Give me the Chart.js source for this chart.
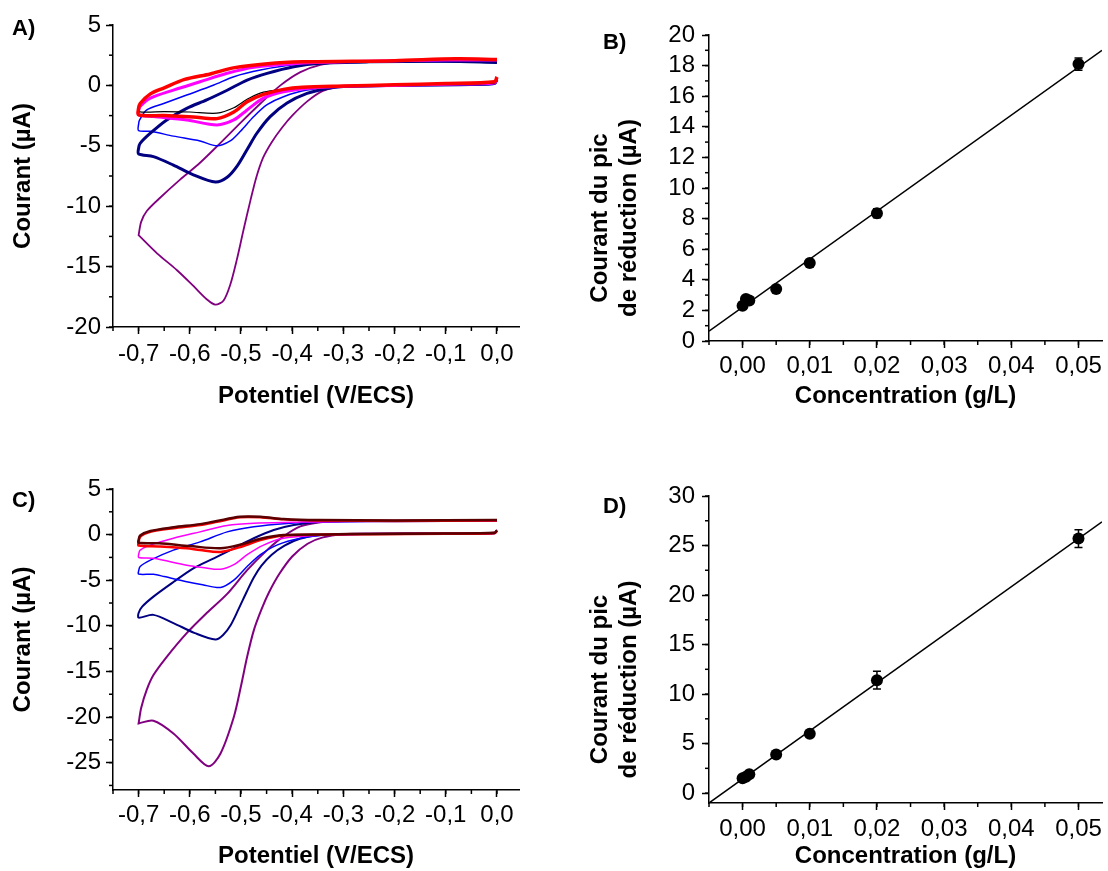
<!DOCTYPE html>
<html>
<head>
<meta charset="utf-8">
<script src="https://cdn.jsdelivr.net/npm/chart.js@4.4.1/dist/chart.umd.min.js"></script>
<style>
  html, body { margin: 0; padding: 0; background: #fff; width: 1108px; height: 871px; overflow: hidden; }
  canvas { position: absolute; }
  .tag { position: absolute; font: bold 22px "Liberation Sans", Arial, sans-serif; line-height: 22px; color: #000; }
</style>
</head>
<body>
<canvas id="cA" width="540" height="420" style="left:0;top:0"></canvas>
<canvas id="cB" width="548" height="420" style="left:560px;top:0"></canvas>
<canvas id="cC" width="540" height="421" style="left:0;top:450px"></canvas>
<canvas id="cD" width="548" height="421" style="left:560px;top:450px"></canvas>
<div class="tag" style="left:12px;top:17px">A)</div>
<div class="tag" style="left:603px;top:31px">B)</div>
<div class="tag" style="left:12px;top:489px">C)</div>
<div class="tag" style="left:603px;top:495px">D)</div>
<script>
// ---- tick values ----
const potTicks  = [-0.7, -0.6, -0.5, -0.4, -0.3, -0.2, -0.1, 0.0];
const curTicksA = [5, 0, -5, -10, -15, -20];
const curTicksC = [5, 0, -5, -10, -15, -20, -25];
const concTicks = [0, 0.01, 0.02, 0.03, 0.04, 0.05];
const peakTicksB = [0, 2, 4, 6, 8, 10, 12, 14, 16, 18, 20];
const peakTicksD = [0, 5, 10, 15, 20, 25, 30];

// ---- panel A voltammograms [E (V/ECS), I (µA)] ----
const cvA_red = [[0,0.7],[-0.005,0.3],[-0.1,0.15],[-0.2,0.05],[-0.3,-0.05],[-0.38,-0.15],[-0.417,-0.33],[-0.456,-0.75],[-0.488,-1.35],[-0.514,-2.2],[-0.547,-2.75],[-0.593,-2.62],[-0.65,-2.5],[-0.7,-2.44],
  [-0.7,-1.9],[-0.697,-1.5],[-0.677,-0.7],[-0.65,-0.2],[-0.61,0.5],[-0.56,0.95],[-0.515,1.45],[-0.448,1.8],[-0.38,1.95],[-0.2,2.05],[-0.08,2.2],[0,2.15]];
const cvA_black = [[0,0.5],[-0.005,0.2],[-0.1,0.1],[-0.2,0.02],[-0.3,-0.05],[-0.37,-0.17],[-0.456,-0.55],[-0.488,-1.15],[-0.514,-1.85],[-0.547,-2.3],[-0.6,-2.2],[-0.65,-2.17],[-0.7,-2.17],
  [-0.7,-1.7],[-0.695,-1.4],[-0.677,-0.7],[-0.65,-0.2],[-0.61,0.5],[-0.56,0.95],[-0.515,1.45],[-0.448,1.8],[-0.38,1.95],[-0.2,2.05],[-0.08,2.2],[0,2.15]];
const cvA_magenta = [[0,0.6],[-0.005,0.2],[-0.1,0.1],[-0.2,0.0],[-0.3,-0.08],[-0.35,-0.17],[-0.417,-0.52],[-0.456,-1.06],[-0.488,-2.03],[-0.514,-2.86],[-0.547,-3.27],[-0.606,-2.86],[-0.671,-2.58],[-0.7,-2.44],
  [-0.7,-2.1],[-0.697,-1.75],[-0.677,-1.06],[-0.632,-0.39],[-0.58,0.3],[-0.527,1.0],[-0.475,1.5],[-0.397,1.8],[-0.3,1.95],[-0.1,2.1],[0,2.1]];
const cvA_blue = [[0,0.4],[-0.005,0.1],[-0.1,0.0],[-0.2,-0.05],[-0.3,-0.12],[-0.371,-0.39],[-0.417,-0.94],[-0.449,-1.6],[-0.475,-2.58],[-0.501,-3.8],[-0.521,-4.6],[-0.547,-5.0],[-0.58,-4.6],[-0.632,-4.2],[-0.677,-3.8],[-0.7,-3.74],
  [-0.7,-3.2],[-0.698,-2.86],[-0.684,-2.03],[-0.651,-1.5],[-0.606,-0.8],[-0.553,0.03],[-0.514,0.72],[-0.462,1.27],[-0.397,1.7],[-0.3,1.9],[-0.15,1.95],[0,1.9]];
const cvA_navy = [[0,0.5],[-0.005,0.15],[-0.1,0.05],[-0.2,0.0],[-0.3,-0.1],[-0.332,-0.25],[-0.371,-0.66],[-0.41,-1.45],[-0.443,-2.58],[-0.469,-3.96],[-0.488,-5.3],[-0.508,-6.7],[-0.527,-7.6],[-0.55,-8.0],[-0.593,-7.4],[-0.632,-6.6],[-0.671,-5.9],[-0.7,-5.67],
  [-0.7,-5.2],[-0.697,-4.8],[-0.677,-3.96],[-0.645,-2.86],[-0.606,-1.9],[-0.567,-1.2],[-0.527,-0.4],[-0.488,0.44],[-0.449,1.0],[-0.397,1.55],[-0.345,1.83],[-0.25,1.95],[-0.1,2.0],[0,1.9]];
const cvA_purple = [[0,0.6],[-0.005,0.25],[-0.1,0.1],[-0.2,0.0],[-0.3,-0.1],[-0.34,-0.45],[-0.37,-1.3],[-0.4,-2.5],[-0.42,-3.5],[-0.44,-4.7],[-0.457,-6.0],[-0.47,-7.6],[-0.482,-9.6],[-0.495,-11.95],[-0.508,-14.4],[-0.521,-16.5],[-0.534,-17.8],[-0.55,-18.15],[-0.567,-17.7],[-0.593,-16.6],[-0.625,-15.3],[-0.664,-13.9],[-0.7,-12.4],
  [-0.7,-12.4],[-0.695,-11.3],[-0.684,-10.4],[-0.658,-9.3],[-0.619,-7.8],[-0.58,-6.4],[-0.541,-4.8],[-0.501,-3.1],[-0.462,-1.5],[-0.423,0.0],[-0.384,1.1],[-0.345,1.7],[-0.3,1.95],[-0.2,2.0],[-0.1,2.1],[0,2.05]];

// ---- panel C voltammograms ----
const cvC_dark = [[0,0.45],[-0.005,0.2],[-0.1,0.12],[-0.25,0.08],[-0.33,0.02],[-0.417,-0.05],[-0.462,-0.45],[-0.498,-1.05],[-0.54,-1.5],[-0.6,-1.25],[-0.66,-0.95],[-0.7,-0.9],
  [-0.7,-0.6],[-0.697,-0.1],[-0.677,0.4],[-0.632,0.8],[-0.58,1.15],[-0.547,1.5],[-0.502,1.95],[-0.462,1.95],[-0.417,1.72],[-0.35,1.6],[-0.2,1.55],[0,1.6]];
const cvC_red = [[0,0.4],[-0.005,0.15],[-0.1,0.1],[-0.25,0.05],[-0.33,0.0],[-0.417,-0.1],[-0.462,-0.6],[-0.498,-1.3],[-0.54,-1.9],[-0.58,-1.7],[-0.606,-1.5],[-0.66,-1.3],[-0.7,-1.2],
  [-0.7,-0.9],[-0.697,-0.24],[-0.677,0.3],[-0.632,0.7],[-0.58,1.05],[-0.547,1.4],[-0.502,1.9],[-0.462,1.9],[-0.417,1.67],[-0.35,1.55],[-0.2,1.5],[0,1.55]];
const cvC_magenta = [[0,0.4],[-0.005,0.15],[-0.1,0.1],[-0.25,0.05],[-0.33,-0.05],[-0.417,-0.4],[-0.456,-1.15],[-0.488,-2.2],[-0.514,-3.3],[-0.54,-3.8],[-0.575,-3.6],[-0.606,-3.35],[-0.671,-2.6],[-0.7,-2.5],
  [-0.7,-2.2],[-0.697,-1.7],[-0.677,-1.15],[-0.632,-0.4],[-0.58,0.3],[-0.527,1.0],[-0.475,1.25],[-0.4,1.35],[-0.3,1.45],[0,1.5]];
const cvC_blue = [[0,0.4],[-0.005,0.12],[-0.1,0.08],[-0.25,0.05],[-0.332,-0.05],[-0.384,-0.4],[-0.43,-1.15],[-0.462,-2.2],[-0.488,-3.5],[-0.514,-5.0],[-0.54,-5.8],[-0.575,-5.5],[-0.606,-5.17],[-0.65,-4.6],[-0.671,-4.35],[-0.7,-4.33],
  [-0.7,-4.0],[-0.697,-3.5],[-0.677,-2.8],[-0.632,-1.7],[-0.58,-0.8],[-0.527,0.3],[-0.475,0.87],[-0.41,1.23],[-0.345,1.4],[-0.2,1.45],[0,1.5]];
const cvC_navy = [[0,0.45],[-0.005,0.15],[-0.1,0.1],[-0.25,0.08],[-0.345,-0.05],[-0.385,-0.45],[-0.415,-1.2],[-0.44,-2.2],[-0.46,-3.4],[-0.475,-4.7],[-0.49,-6.4],[-0.505,-8.2],[-0.52,-9.9],[-0.535,-11.0],[-0.55,-11.5],[-0.59,-10.8],[-0.632,-9.7],[-0.671,-8.8],[-0.7,-9.1],
  [-0.7,-8.6],[-0.693,-7.9],[-0.671,-6.8],[-0.632,-5.2],[-0.593,-3.7],[-0.553,-2.6],[-0.514,-1.5],[-0.475,-0.4],[-0.436,0.5],[-0.397,1.05],[-0.345,1.4],[-0.25,1.5],[0,1.5]];
const cvC_purple = [[0,0.5],[-0.005,0.2],[-0.1,0.15],[-0.254,0.13],[-0.3,0.05],[-0.34,-0.3],[-0.37,-1.0],[-0.4,-2.4],[-0.425,-4.3],[-0.445,-6.3],[-0.46,-8.2],[-0.475,-10.5],[-0.488,-13.4],[-0.5,-16.6],[-0.514,-20.0],[-0.54,-24.0],[-0.563,-25.4],[-0.593,-24.0],[-0.632,-21.8],[-0.671,-20.4],[-0.7,-20.7],
  [-0.7,-20.7],[-0.695,-19.0],[-0.684,-17.0],[-0.671,-15.4],[-0.645,-13.4],[-0.606,-10.8],[-0.567,-8.6],[-0.527,-6.5],[-0.488,-3.9],[-0.449,-1.7],[-0.417,-0.2],[-0.384,0.9],[-0.345,1.35],[-0.3,1.5],[-0.1,1.5],[0,1.5]];

// ---- panels B and D: peak current vs concentration ----
const conc   = [0, 0.0005, 0.001, 0.005, 0.01, 0.02, 0.05];
const peakB  = [2.3, 2.75, 2.65, 3.4, 5.1, 8.35, 18.1];
const errB   = [0.15, 0.15, 0.15, 0.15, 0.15, 0.3, 0.4];
const peakD  = [1.5, 1.65, 1.9, 3.9, 6.0, 11.4, 25.7];
const errD   = [0.2, 0.2, 0.2, 0.2, 0.2, 0.9, 0.9];
const fitX   = [-0.005, 0.0535];
const fitB   = [0.65, 19.0];
const fitD   = [-1.0, 27.4];

const FONT = '"Liberation Sans", Arial, sans-serif';
Chart.defaults.font.family = FONT;
Chart.defaults.color = '#000';
Chart.defaults.animation = false;

// short ticks between the labelled ones (Origin-style minor ticks)
const minorTicks = {
  id: 'minorTicks',
  afterDraw(chart, args, opts) {
    const ctx = chart.ctx;
    ctx.save();
    ctx.strokeStyle = '#000';
    ctx.lineWidth = 1.5;
    ['x', 'y'].forEach(id => {
      const step = opts[id];
      if (!step) return;
      const sc = chart.scales[id];
      const n0 = Math.ceil(sc.min / step - 1e-6), n1 = Math.floor(sc.max / step + 1e-6);
      for (let k = n0; k <= n1; k++) {
        const p = sc.getPixelForValue(k * step);
        ctx.beginPath();
        if (id === 'x') { ctx.moveTo(p, sc.top); ctx.lineTo(p, sc.top + 4); }
        else { ctx.moveTo(sc.right, p); ctx.lineTo(sc.right - 4, p); }
        ctx.stroke();
      }
    });
    ctx.restore();
  }
};

const errorBars = {
  id: 'errorBars',
  afterDatasetsDraw(chart) {
    const { ctx, scales: { x, y } } = chart;
    chart.data.datasets.forEach(ds => {
      if (!ds.errors) return;
      ctx.save();
      ctx.strokeStyle = '#000';
      ctx.lineWidth = 1.5;
      ds.data.forEach((pt, j) => {
        const e = ds.errors[j];
        const px = x.getPixelForValue(pt.x);
        const t = y.getPixelForValue(pt.y + e), b = y.getPixelForValue(pt.y - e);
        ctx.beginPath();
        ctx.moveTo(px, t); ctx.lineTo(px, b);
        ctx.moveTo(px - 4, t); ctx.lineTo(px + 4, t);
        ctx.moveTo(px - 4, b); ctx.lineTo(px + 4, b);
        ctx.stroke();
      });
      ctx.restore();
    });
  }
};

function axis(o) {
  return {
    type: 'linear',
    min: o.min, max: o.max,
    afterBuildTicks: s => { s.ticks = o.ticks.map(v => ({ value: v })); },
    afterFit: s => { if (o.w != null) s.width = o.w; if (o.h != null) s.height = o.h; },
    grid: { drawOnChartArea: false, drawTicks: true, tickLength: 7, tickWidth: 1.5, tickColor: '#000' },
    border: { display: true, color: '#000', width: 1.5 },
    ticks: { color: '#000', font: { size: 24 }, padding: o.pad, autoSkip: false, maxRotation: 0, callback: o.fmt },
    title: { display: true, text: o.title, color: '#000', font: { size: 24, weight: 'bold' }, padding: o.tpad },
  };
}

const fmtPot  = v => v.toFixed(1).replace('.', ',');
const fmtInt  = v => String(v);
const fmtConc = v => v.toFixed(2).replace('.', ',');
const xy = (xs, ys) => xs.map((x, i) => ({ x: x, y: ys[i] }));
const cv = (pts, color, w) => ({
  data: pts.map(p => ({ x: p[0], y: p[1] })), showLine: true, borderColor: color,
  borderWidth: w, pointRadius: 0, tension: 0.3, fill: false,
});
// trailing no-break spaces push the centred two-line title lower, as in the original
const GAP = '\u00a0'.repeat(9);

function cvChart(id, sets, ymin, yTicks, pad) {
  new Chart(document.getElementById(id), {
    type: 'scatter',
    data: { datasets: sets },
    options: {
      responsive: false,
      layout: { padding: { top: pad.top, right: 21, left: 0, bottom: 0 } },
      plugins: { legend: { display: false }, tooltip: { enabled: false }, minorTicks: { x: 0.05, y: 2.5 } },
      scales: {
        x: axis({ min: -0.75, max: 0.043, ticks: potTicks, fmt: fmtPot, h: pad.h, pad: pad.xp,
                  title: 'Potentiel (V/ECS)', tpad: { bottom: pad.tb } }),
        y: axis({ min: ymin, max: 5, ticks: yTicks, fmt: fmtInt, w: 113, pad: 5,
                  title: 'Courant (µA)', tpad: { top: 9 } }),
      },
    },
    plugins: [minorTicks],
  });
}

function calChart(id, peaks, errs, fit, ymin, ymax, yTicks, minorY, pad) {
  new Chart(document.getElementById(id), {
    type: 'scatter',
    data: {
      datasets: [
        { data: xy(conc, peaks), errors: errs, pointRadius: 6, pointBackgroundColor: '#000', pointBorderColor: '#000', borderWidth: 0 },
        { data: xy(fitX, fit), showLine: true, borderColor: '#000', borderWidth: 1.5, pointRadius: 0 },
      ],
    },
    options: {
      responsive: false,
      layout: { padding: { top: pad.top, right: 0, left: 0, bottom: 0 } },
      plugins: { legend: { display: false }, tooltip: { enabled: false }, minorTicks: { x: 0.005, y: minorY } },
      scales: {
        x: axis({ min: -0.005, max: 0.0535, ticks: concTicks, fmt: fmtConc, h: pad.h, pad: pad.xp,
                  title: 'Concentration (g/L)', tpad: { bottom: pad.tb } }),
        y: axis({ min: ymin, max: ymax, ticks: yTicks, fmt: fmtInt, w: 149, pad: 7,
                  title: ['Courant du pic' + GAP, 'de réduction (µA)' + GAP], tpad: { top: 26 } }),
      },
    },
    plugins: [minorTicks, errorBars],
  });
}

cvChart('cA', [
  cv(cvA_red, '#FF0000', 3.5), cv(cvA_black, '#000000', 1.2), cv(cvA_magenta, '#FF00FF', 3),
  cv(cvA_navy, '#000080', 3), cv(cvA_blue, '#0000FF', 1.5), cv(cvA_purple, '#800080', 1.8),
], -20, curTicksA, { top: 25, h: 93, xp: 6, tb: 9 });

cvChart('cC', [
  cv(cvC_dark, '#5A0000', 2.5), cv(cvC_red, '#FF0000', 2.5), cv(cvC_magenta, '#FF00FF', 1.5),
  cv(cvC_blue, '#0000FF', 1.5), cv(cvC_navy, '#000080', 2), cv(cvC_purple, '#800080', 2),
], -28, curTicksC, { top: 39, h: 81, xp: 4, tb: 0 });

calChart('cB', peakB, errB, fitB, 0, 20, peakTicksB, 1, { top: 35, h: 79, xp: 4, tb: 9 });
calChart('cD', peakD, errD, fitD, -1, 30, peakTicksD, 2.5, { top: 46, h: 68, xp: 5, tb: 0 });
</script>
</body>
</html>
